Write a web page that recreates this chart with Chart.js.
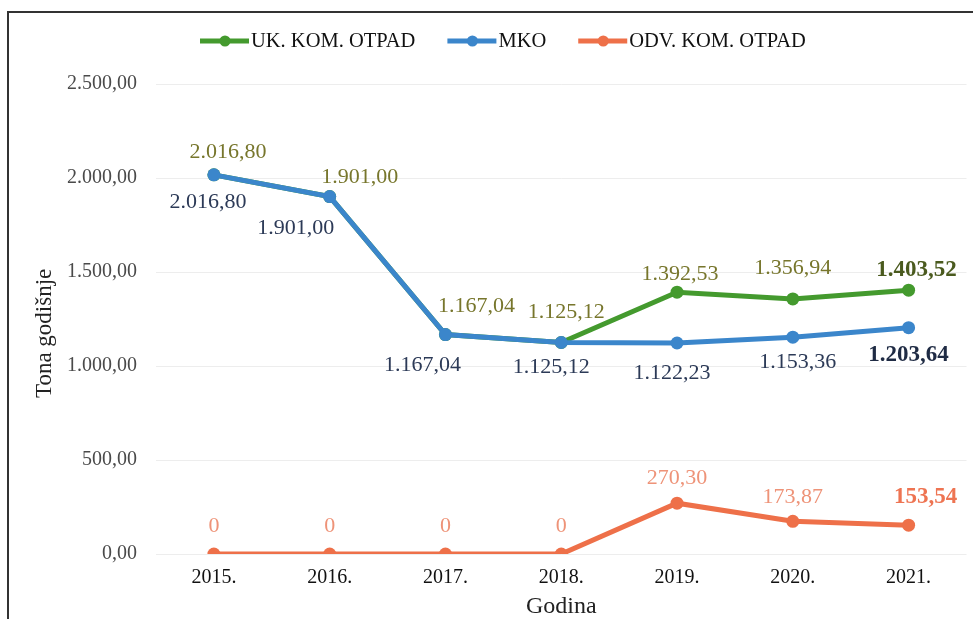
<!DOCTYPE html>
<html>
<head>
<meta charset="utf-8">
<script src="https://cdn.jsdelivr.net/npm/chart.js@4/dist/chart.umd.min.js"></script>
<style>
    html, body { margin: 0; padding: 0; background: #fff; overflow: hidden; }
    #wrap { position: relative; width: 973px; height: 619px; }
    #frame { position: absolute; left: 7px; top: 11px; width: 1000px; height: 700px;
             border-top: 2px solid #333; border-left: 2px solid #333; pointer-events: none; }
</style>
</head>
<body>
<div id="wrap">
    <canvas id="chart" width="973" height="619"></canvas>
    <div id="frame"></div>
</div>
<script>
// podaci
const years = ['2015.', '2016.', '2017.', '2018.', '2019.', '2020.', '2021.'];
const ukKomOtpad = [2016.80, 1901.00, 1167.04, 1125.12, 1392.53, 1356.94, 1403.52];
const mko = [2016.80, 1901.00, 1167.04, 1125.12, 1122.23, 1153.36, 1203.64];
const odvKomOtpad = [0, 0, 0, 0, 270.30, 173.87, 153.54];
const yTicks = [0, 500, 1000, 1500, 2000, 2500];

const SERIF = '"Liberation Serif", "Times New Roman", serif';

// 2.016,80 format
function fmt(v, zeroPlain) {
    if (zeroPlain && v === 0) return '0';
    const parts = v.toFixed(2).split('.');
    parts[0] = parts[0].replace(/\B(?=(\d{3})+(?!\d))/g, '.');
    return parts.join(',');
}

// pomaci oznaka (dx, dy od tocke)
const labelOffsets = [
    [[14, -23], [30, -19], [31, -28], [5, -30], [3, -18], [0, -31], [8, -20]],
    [[-6, 27], [-34, 32], [-23, 31], [-10, 25], [-5, 30], [5, 25], [0, 27]],
    [[0, -28], [0, -28], [0, -28], [0, -28], [0, -25], [0, -24], [17, -28]]
];
const labelColors = ['#77762c', '#2c3a57', '#ee9378'];
const lastColors = ['#4a5a1e', '#1f2b44', '#ee7452'];

const dataLabels = {
    id: 'dataLabels',
    afterDatasetsDraw(chart) {
        const ctx = chart.ctx;
        ctx.save();
        ctx.textAlign = 'center';
        ctx.textBaseline = 'middle';
        chart.data.datasets.forEach((ds, i) => {
            const meta = chart.getDatasetMeta(i);
            meta.data.forEach((pt, j) => {
                const last = j === ds.data.length - 1;
                ctx.font = (last ? 'bold 23px ' : '22px ') + SERIF;
                ctx.fillStyle = last ? lastColors[i] : labelColors[i];
                const off = labelOffsets[i][j];
                ctx.fillText(fmt(ds.data[j], i === 2), pt.x + off[0], pt.y + off[1]);
            });
        });
        ctx.restore();
    }
};

// legenda
const customLegend = {
    id: 'customLegend',
    afterDraw(chart) {
        const ctx = chart.ctx;
        ctx.save();
        ctx.font = '20.5px ' + SERIF;
        ctx.textBaseline = 'middle';
        let x = 200;
        const y = 41;
        chart.data.datasets.forEach(ds => {
            ctx.strokeStyle = ds.borderColor;
            ctx.lineWidth = 5;
            ctx.beginPath();
            ctx.moveTo(x, y);
            ctx.lineTo(x + 49, y);
            ctx.stroke();
            ctx.fillStyle = ds.borderColor;
            ctx.beginPath();
            ctx.arc(x + 25, y, 5.5, 0, Math.PI * 2);
            ctx.fill();
            ctx.fillStyle = '#111';
            ctx.fillText(ds.label, x + 51, y + 1);
            x += 51 + ctx.measureText(ds.label).width + 32;
        });
        ctx.restore();
    }
};

const ctx = document.getElementById('chart').getContext('2d');
new Chart(ctx, {
    type: 'line',
    data: {
        labels: years,
        datasets: [{
            label: 'UK. KOM. OTPAD',
            data: ukKomOtpad,
            borderColor: '#449a2e',
            backgroundColor: '#449a2e',
            order: 2
        }, {
            label: 'MKO',
            data: mko,
            borderColor: '#3b86cb',
            backgroundColor: '#3b86cb',
            order: 1
        }, {
            label: 'ODV. KOM. OTPAD',
            data: odvKomOtpad,
            borderColor: '#ee7049',
            backgroundColor: '#ee7049',
            order: 0
        }]
    },
    options: {
        responsive: false,
        animation: false,
        devicePixelRatio: 1,
        layout: { padding: { top: 84, right: 2, bottom: 0, left: 0 } },
        elements: {
            line: { borderWidth: 5, tension: 0 },
            point: { radius: 6.5, borderWidth: 0 }
        },
        plugins: {
            legend: { display: false },
            tooltip: { enabled: false }
        },
        scales: {
            x: {
                offset: true,
                grid: { display: false, drawTicks: false },
                border: { display: false },
                ticks: { color: '#111', font: { family: SERIF, size: 20 }, padding: 12 },
                title: {
                    display: true, text: 'Godina', color: '#222',
                    font: { family: SERIF, size: 24, lineHeight: 1 },
                    padding: { top: -8, bottom: 0 }
                },
                afterFit(scale) { scale.height = 65; }
            },
            y: {
                min: 0,
                max: 2500,
                afterBuildTicks(scale) { scale.ticks = yTicks.map(v => ({ value: v })); },
                grid: { color: '#ededed', lineWidth: 1, drawTicks: false },
                border: { display: false },
                ticks: {
                    color: '#4a4a4a', padding: 19,
                    font: { family: SERIF, size: 20 },
                    callback: v => fmt(v)
                },
                title: {
                    display: true, text: 'Tona godišnje     ', color: '#222',
                    font: { family: SERIF, size: 23, lineHeight: 1 },
                    padding: { top: 33, bottom: 0 }
                },
                afterFit(scale) { scale.width = 156; }
            }
        }
    },
    plugins: [dataLabels, customLegend]
});
</script>
</body>
</html>
